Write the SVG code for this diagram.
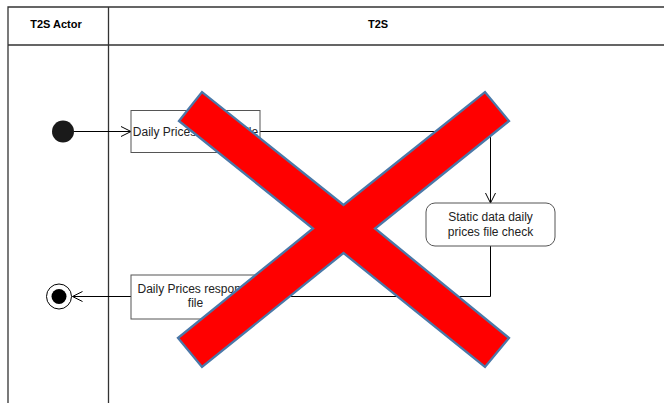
<svg xmlns="http://www.w3.org/2000/svg" width="664" height="405" viewBox="0 0 664 405">
<defs>
<style>
.lane{fill:none;stroke:#333;stroke-width:1.3}
.hdr{font-family:"Liberation Sans",Arial,sans-serif;font-size:11px;font-weight:bold;fill:#000;text-anchor:middle}
.box{fill:#fff;stroke:#555;stroke-width:1}
.lbl{font-family:"Liberation Sans",Arial,sans-serif;font-size:12px;fill:#222;text-anchor:middle}
.conn{fill:none;stroke:#000;stroke-width:1}
</style>
<marker id="arr" markerWidth="12" markerHeight="12" refX="11" refY="6" orient="auto" markerUnits="userSpaceOnUse">
<path d="M1,1 L11,6 L1,11" fill="none" stroke="#000" stroke-width="1"/>
</marker>
</defs>
<rect width="664" height="405" fill="#fff"/>
<g id="lanes">
<path class="lane" d="M8,403 V7 H664 M8,45 H664 M108.5,7 V403"/>
<text class="hdr" x="56" y="28">T2S Actor</text>
<text class="hdr" x="378" y="28">T2S</text>
</g>
<g id="connectors">
<path class="conn" d="M74,131.5 H131" marker-end="url(#arr)"/>
<path class="conn" d="M260,131.5 H490.5 V203" marker-end="url(#arr)"/>
<path class="conn" d="M490.5,246 V296.5 H260"/>
<path class="conn" d="M131,296.5 H72.5" marker-end="url(#arr)"/>
</g>
<g id="start">
<circle cx="63" cy="131.5" r="11" fill="#1a1a1a"/>
</g>
<g id="request">
<rect class="box" x="131" y="110.5" width="129" height="42"/>
<text class="lbl" x="195.5" y="135.5">Daily Prices request file</text>
</g>
<g id="check">
<rect class="box" x="426" y="203" width="129" height="43" rx="9" ry="9"/>
<text class="lbl" x="490.5" y="221">Static data daily</text>
<text class="lbl" x="490.5" y="235.5">prices file check</text>
</g>
<g id="response">
<rect class="box" x="131" y="275" width="129" height="44"/>
<text class="lbl" x="195.5" y="293">Daily Prices response</text>
<text class="lbl" x="195.5" y="307">file</text>
</g>
<g id="end">
<circle cx="59" cy="296.5" r="12.5" fill="#fff" stroke="#000" stroke-width="1"/>
<circle cx="59" cy="296.5" r="7.5" fill="#000"/>
</g>
<g id="cross">
<polygon points="179,121 202,92 343.5,205 485,92 509,121 375,228.5 509,338 485,367 343.5,253 202,367 178,338 313,228.5" fill="#ff0000" stroke="#4a78a8" stroke-width="2.3" stroke-linejoin="miter"/>
</g>
</svg>
